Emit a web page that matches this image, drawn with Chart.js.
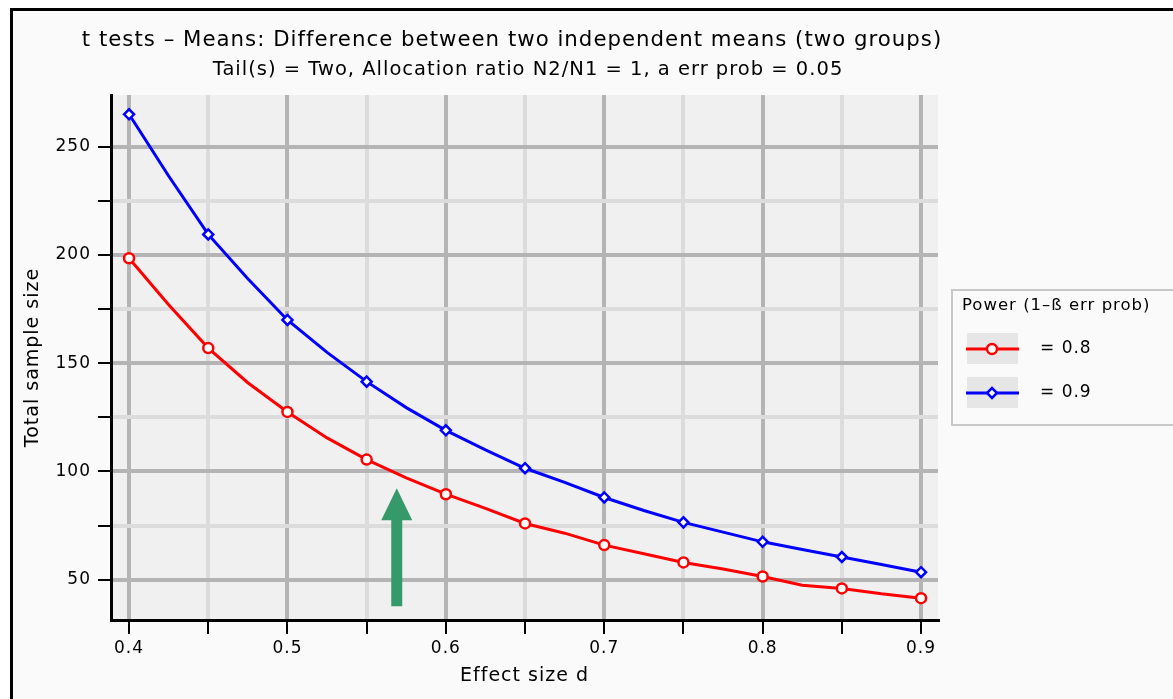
<!DOCTYPE html>
<html>
<head>
<meta charset="utf-8">
<title>t tests - Means: Difference between two independent means</title>
<script src="https://cdn.jsdelivr.net/npm/chart.js@4.4.0/dist/chart.umd.min.js"></script>
<style>
  html, body { margin: 0; padding: 0; background: #fff; overflow: hidden; }
  .frame {
    position: absolute; left: 10px; top: 8px;
    width: 1200px; height: 720px;
    border: 3px solid #000; background: #fafafa;
  }
  #plot { position: absolute; left: 0; top: 0; }
</style>
</head>
<body>
<div class="frame"></div>
<canvas id="plot" width="1173" height="699"></canvas>
<script>
// effect size d (x axis)
const effectSizes = [0.4, 0.425, 0.45, 0.475, 0.5, 0.525, 0.55, 0.575, 0.6, 0.625, 0.65,
                     0.675, 0.7, 0.725, 0.75, 0.775, 0.8, 0.825, 0.85, 0.875, 0.9];
// total sample size for power = 0.8
const sizePower80 = [198.5, 177, 157, 141, 127.5, 115.5, 105.5, 97, 89.5, 83, 76,
                     71.5, 66, 62, 58, 55, 51.5, 47.5, 46, 43.5, 41.5];
// total sample size for power = 0.9
const sizePower90 = [265, 236.5, 209.5, 189, 170, 155, 141.5, 129.5, 119, 110, 101.5,
                     95, 88, 82, 76.5, 72, 67.5, 64, 60.5, 57, 53.5];

const xTicks = [0.4, 0.45, 0.5, 0.55, 0.6, 0.65, 0.7, 0.75, 0.8, 0.85, 0.9];
const yTicks = [50, 75, 100, 125, 150, 175, 200, 225, 250];

const titleText = 't tests \u2013 Means: Difference between two independent means (two groups)';
const subtitleText = 'Tail(s) = Two, Allocation ratio N2/N1 = 1, a err prob = 0.05';
const legendTitle = 'Power (1\u2013\u00df err prob)';
const legendLabels = ['= 0.8', '= 0.9'];

// green arrow: effect size, sample size at the tail and at the tip
const arrowD = 0.569;
const arrowFrom = 37.7;
const arrowTo = 92.3;

const MAJOR = '#b4b4b4';
const MINOR = '#dcdcdc';

function isMajorX(v) {
    return Math.abs(v * 10 - Math.round(v * 10)) < 1e-6;
}

Chart.defaults.font.family = '"DejaVu Sans", sans-serif';
Chart.defaults.color = '#000';

/**
 * Plot background + letter spacing for all canvas text
 */
const backgroundPlugin = {
    id: 'plotBackground',
    beforeDraw(chart) {
        const ctx = chart.ctx;
        const a = chart.chartArea;
        ctx.letterSpacing = '1px';
        ctx.save();
        ctx.fillStyle = '#f0f0f0';
        ctx.fillRect(a.left, a.top, a.right - a.left, a.bottom - a.top);
        ctx.restore();
    }
};

/**
 * Two title lines above the plot (wider than the plot area itself)
 */
const headingPlugin = {
    id: 'heading',
    afterDraw(chart) {
        const ctx = chart.ctx;
        ctx.save();
        ctx.fillStyle = '#000';
        ctx.textAlign = 'center';
        ctx.textBaseline = 'middle';
        ctx.font = '21.3px "DejaVu Sans"';
        ctx.fillText(titleText, 512, 40);
        ctx.font = '19.5px "DejaVu Sans"';
        ctx.fillText(subtitleText, 528, 70);
        ctx.restore();
    }
};

/**
 * Green arrow pointing at the curve
 */
const arrowPlugin = {
    id: 'arrow',
    afterDatasetsDraw(chart) {
        const ctx = chart.ctx;
        const x = chart.scales.x.getPixelForValue(arrowD);
        const yBase = chart.scales.y.getPixelForValue(arrowFrom);
        const yTip = chart.scales.y.getPixelForValue(arrowTo);
        const head = 32, headHalf = 15.5, shaftHalf = 5.5;
        ctx.save();
        ctx.fillStyle = '#36996a';
        ctx.beginPath();
        ctx.moveTo(x - shaftHalf, yBase);
        ctx.lineTo(x - shaftHalf, yTip + head);
        ctx.lineTo(x - headHalf, yTip + head);
        ctx.lineTo(x, yTip);
        ctx.lineTo(x + headHalf, yTip + head);
        ctx.lineTo(x + shaftHalf, yTip + head);
        ctx.lineTo(x + shaftHalf, yBase);
        ctx.closePath();
        ctx.fill();
        ctx.restore();
    }
};

/**
 * Legend box on the right
 */
const legendPlugin = {
    id: 'powerLegend',
    afterDraw(chart) {
        const ctx = chart.ctx;
        const left = chart.chartArea.right + 14;
        const top = 290;
        ctx.save();
        ctx.fillStyle = '#fafafa';
        ctx.fillRect(left, top, 260, 135);
        ctx.strokeStyle = '#c8c8c8';
        ctx.lineWidth = 2;
        ctx.strokeRect(left, top, 260, 135);

        ctx.fillStyle = '#000';
        ctx.textBaseline = 'middle';
        ctx.font = '16.5px "DejaVu Sans"';
        ctx.fillText(legendTitle, left + 10, top + 16);

        chart.data.datasets.forEach((ds, i) => {
            const y = top + 59 + i * 44;
            ctx.fillStyle = '#e6e6e6';
            ctx.fillRect(left + 15, y - 16, 51, 31);
            ctx.strokeStyle = ds.borderColor;
            ctx.lineWidth = 3;
            ctx.beginPath();
            ctx.moveTo(left + 14, y);
            ctx.lineTo(left + 67, y);
            ctx.stroke();
            ctx.fillStyle = '#fff';
            ctx.lineWidth = ds.pointBorderWidth;
            Chart.helpers.drawPoint(ctx, {
                pointStyle: ds.pointStyle,
                radius: 5,
                borderWidth: ds.pointBorderWidth,
                rotation: 0
            }, left + 40, y);
            ctx.fillStyle = '#000';
            ctx.font = '17px "DejaVu Sans"';
            ctx.fillText(legendLabels[i], left + 88, y);
        });
        ctx.restore();
    }
};

function series(values) {
    return effectSizes.map((d, i) => ({ x: d, y: values[i] }));
}

// markers only every 0.05
const markerRadius = c => (c.dataIndex % 2 === 0 ? 5 : 0);

new Chart(document.getElementById('plot'), {
    type: 'line',
    data: {
        datasets: [
            {
                label: 'Power = 0.8',
                data: series(sizePower80),
                borderColor: '#ff0000',
                borderWidth: 3,
                pointStyle: 'circle',
                pointRadius: markerRadius,
                pointBackgroundColor: '#ffffff',
                pointBorderColor: '#ff0000',
                pointBorderWidth: 2.5,
                tension: 0,
                fill: false
            },
            {
                label: 'Power = 0.9',
                data: series(sizePower90),
                borderColor: '#0000ff',
                borderWidth: 3,
                pointStyle: 'rectRot',
                pointRadius: markerRadius,
                pointBackgroundColor: '#ffffff',
                pointBorderColor: '#0000ff',
                pointBorderWidth: 2.5,
                tension: 0,
                fill: false
            }
        ]
    },
    options: {
        responsive: false,
        devicePixelRatio: 1,
        animation: false,
        events: [],
        layout: {
            padding: { top: 95, right: 235, bottom: 0, left: 0 }
        },
        plugins: {
            legend: { display: false },
            tooltip: { enabled: false },
            title: { display: false },
            subtitle: { display: false }
        },
        scales: {
            x: {
                type: 'linear',
                min: 0.3886,
                max: 0.9107,
                afterBuildTicks: s => { s.ticks = xTicks.map(v => ({ value: v })); },
                afterFit: s => { s.height = 79; },
                grid: {
                    color: c => (c.tick && isMajorX(c.tick.value) ? MAJOR : MINOR),
                    lineWidth: 4,
                    tickColor: '#000',
                    tickWidth: 2,
                    tickLength: 14
                },
                border: { color: '#000', width: 3 },
                ticks: {
                    autoSkip: false,
                    maxRotation: 0,
                    padding: 4,
                    font: { size: 17 },
                    callback: v => (isMajorX(v) ? v.toFixed(1) : '')
                },
                title: {
                    display: true,
                    text: 'Effect size d',
                    font: { size: 19 },
                    padding: { top: 0, bottom: 12 }
                }
            },
            y: {
                type: 'linear',
                min: 31.4,
                max: 273.9,
                afterBuildTicks: s => { s.ticks = yTicks.map(v => ({ value: v })); },
                afterFit: s => { s.width = 111; },
                grid: {
                    color: c => (c.tick && c.tick.value % 50 === 0 ? MAJOR : MINOR),
                    lineWidth: 4,
                    tickColor: '#000',
                    tickWidth: 2,
                    tickLength: 13
                },
                border: { color: '#000', width: 3 },
                ticks: {
                    autoSkip: false,
                    padding: 7,
                    font: { size: 17 },
                    callback: v => (v % 50 === 0 ? String(v) : '')
                },
                title: {
                    display: true,
                    text: 'Total sample size',
                    font: { size: 19 },
                    padding: { top: 22, bottom: 0 }
                }
            }
        }
    },
    plugins: [backgroundPlugin, arrowPlugin, headingPlugin, legendPlugin]
});
</script>
</body>
</html>
